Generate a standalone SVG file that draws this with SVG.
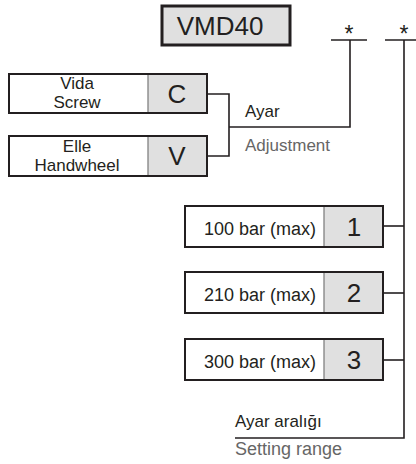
<svg xmlns="http://www.w3.org/2000/svg" width="416" height="464" viewBox="0 0 416 464">
<style>
.box{fill:#fff;stroke:#231f20;stroke-width:2}
.code{fill:#e0e0e0;stroke:none}
.div{stroke:#777;stroke-width:1.2}
.ln{fill:none;stroke:#231f20;stroke-width:1.6}
text{font-family:"Liberation Sans",Arial,sans-serif;fill:#231f20}
.lbl{font-size:18px}
.sm{font-size:17px}
.big{font-size:26px;text-anchor:middle}
.mid{text-anchor:middle}
.gray{fill:#666}
.star{font-size:23px;text-anchor:middle}
</style>
<rect width="416" height="464" fill="#fff"/>
<g id="title">
<rect x="162" y="6" width="128" height="39" fill="#e0e0e0" stroke="#231f20" stroke-width="3"/>
<text x="220" y="35" font-size="26" class="mid">VMD40</text>
</g>
<g id="star1"><text class="star" x="349" y="42">*</text></g>
<g id="star2"><text class="star" x="404" y="42">*</text></g>
<g id="nodeC">
<rect class="box" x="9" y="74" width="198" height="39"/>
<rect class="code" x="148" y="75" width="58" height="37"/>
<line class="div" x1="148" y1="75" x2="148" y2="112"/>
<text class="sm mid" x="77" y="89">Vida</text>
<text class="sm mid" x="77" y="108">Screw</text>
<text class="big" x="177" y="103">C</text>
</g>
<g id="nodeV">
<rect class="box" x="9" y="136" width="198" height="40"/>
<rect class="code" x="148" y="137" width="58" height="38"/>
<line class="div" x1="148" y1="137" x2="148" y2="175"/>
<text class="sm mid" x="77" y="152">Elle</text>
<text class="sm mid" x="77" y="171">Handwheel</text>
<text class="big" x="177" y="165">V</text>
</g>
<g id="node1">
<rect class="box" x="185" y="206" width="198" height="41"/>
<rect class="code" x="324" y="207" width="58" height="39"/>
<line class="div" x1="324" y1="207" x2="324" y2="246"/>
<text class="lbl" x="316" y="235" text-anchor="end">100 bar (max)</text>
<text class="big" x="354" y="236">1</text>
</g>
<g id="node2">
<rect class="box" x="185" y="272" width="198" height="41"/>
<rect class="code" x="324" y="273" width="58" height="39"/>
<line class="div" x1="324" y1="273" x2="324" y2="312"/>
<text class="lbl" x="316" y="301" text-anchor="end">210 bar (max)</text>
<text class="big" x="354" y="302">2</text>
</g>
<g id="node3">
<rect class="box" x="185" y="339" width="198" height="41"/>
<rect class="code" x="324" y="340" width="58" height="39"/>
<line class="div" x1="324" y1="340" x2="324" y2="379"/>
<text class="lbl" x="316" y="368" text-anchor="end">300 bar (max)</text>
<text class="big" x="354" y="369">3</text>
</g>
<g id="connectors">
<line class="ln" x1="331" y1="40" x2="367" y2="40"/>
<line class="ln" x1="385" y1="40" x2="420" y2="40"/>
<polyline class="ln" points="207,94 229,94 229,156 207,156"/>
<polyline class="ln" points="229,127 350,127 350,40"/>
<polyline class="ln" points="404,40 404,438 235,438"/>
<line class="ln" x1="383" y1="226" x2="404" y2="226"/>
<line class="ln" x1="383" y1="293" x2="404" y2="293"/>
<line class="ln" x1="383" y1="360" x2="404" y2="360"/>
</g>
<g id="labels">
<text class="sm" x="245" y="117">Ayar</text>
<text class="sm gray" x="245" y="151">Adjustment</text>
<text class="sm" x="235" y="427">Ayar aralığı</text>
<text class="lbl gray" x="235" y="455">Setting range</text>
</g>
</svg>
